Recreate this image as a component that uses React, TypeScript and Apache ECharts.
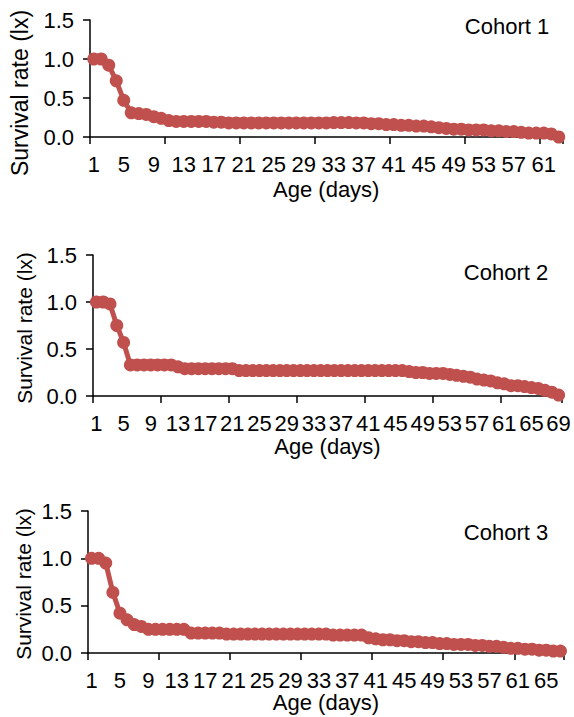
import React, { useEffect, useRef } from "react";
import * as echarts from "echarts";

// Survival rate (lx) per day of age
const cohort1 = [
  1.0, 1.0, 0.92, 0.72, 0.47, 0.31, 0.3, 0.29, 0.26, 0.24,
  0.21, 0.2, 0.2, 0.2, 0.2, 0.2, 0.19, 0.19, 0.18, 0.18,
  0.18, 0.18, 0.18, 0.18, 0.18, 0.18, 0.18, 0.18, 0.18, 0.18,
  0.18, 0.18, 0.185, 0.185, 0.185, 0.18, 0.18, 0.17, 0.17, 0.16,
  0.16, 0.15, 0.15, 0.14, 0.14, 0.13, 0.12, 0.11, 0.1, 0.1,
  0.09, 0.09, 0.09, 0.08, 0.08, 0.07, 0.07, 0.06, 0.05, 0.05,
  0.05, 0.04, 0.0,
];
const cohort2 = [
  1.0, 1.0, 0.98, 0.75, 0.57, 0.33, 0.33, 0.33, 0.33, 0.33,
  0.33, 0.33, 0.31, 0.29, 0.29, 0.29, 0.29, 0.29, 0.29, 0.29,
  0.29, 0.27, 0.27, 0.27, 0.27, 0.27, 0.27, 0.27, 0.27, 0.27,
  0.27, 0.27, 0.27, 0.27, 0.27, 0.27, 0.27, 0.27, 0.27, 0.27,
  0.27, 0.27, 0.27, 0.27, 0.27, 0.27, 0.26, 0.25, 0.25, 0.24,
  0.24, 0.24, 0.23, 0.22, 0.21, 0.2, 0.18, 0.17, 0.16, 0.14,
  0.13, 0.11, 0.11, 0.1, 0.09, 0.08, 0.06, 0.04, 0.01,
];
const cohort3 = [
  1.0, 1.0, 0.95, 0.64, 0.42, 0.35, 0.3, 0.28, 0.25, 0.25,
  0.25, 0.25, 0.25, 0.25, 0.21, 0.21, 0.21, 0.21, 0.21, 0.2,
  0.2, 0.2, 0.2, 0.2, 0.2, 0.2, 0.2, 0.2, 0.2, 0.2,
  0.2, 0.2, 0.2, 0.2, 0.19, 0.19, 0.19, 0.19, 0.19, 0.16,
  0.15, 0.14, 0.14, 0.13, 0.13, 0.12, 0.12, 0.11, 0.11, 0.1,
  0.1, 0.09, 0.09, 0.09, 0.08, 0.08, 0.07, 0.07, 0.06, 0.05,
  0.05, 0.04, 0.04, 0.03, 0.03, 0.02, 0.02,
];
const cohortNames = ["Cohort 1", "Cohort 2", "Cohort 3"];
const xTitle = "Age (days)";
const yTitle = "Survival rate (lx)";
const yMin = 0;
const yMax = 1.5;
const yStep = 0.5;

const days = (n: number) => Array.from({ length: n }, (_, i) => String(i + 1));

const FONT = "'Liberation Sans', Arial, sans-serif";
const RED = "#C0504D";

const panels = [
  { data: cohort1, grid: { left: 90, top: 20, width: 472.5, height: 117 }, nameGap: 41, labelSize: 22, yTitle: { x: 20, y: 93, size: 23 }, label: { x: 507, y: 26 } },
  { data: cohort2, grid: { left: 93, top: 255, width: 469, height: 141 }, nameGap: 39, labelSize: 22, yTitle: { x: 24, y: 328, size: 21 }, label: { x: 506, y: 272 } },
  { data: cohort3, grid: { left: 88, top: 511, width: 476, height: 142 }, nameGap: 35, labelSize: 22, yTitle: { x: 23, y: 584, size: 21 }, label: { x: 506, y: 532 } },
];

export default function App() {
  const ref = useRef<HTMLDivElement>(null);
  useEffect(() => {
    if (!ref.current) return;
    const chart = echarts.init(ref.current, undefined, { renderer: "svg" });
    const option: any = {
      animation: false,
      backgroundColor: "#fff",
      textStyle: { fontFamily: FONT, color: "#000" },
      grid: panels.map((p) => ({ ...p.grid, containLabel: false })),
      xAxis: panels.map((p, i) => ({
        type: "category",
        gridIndex: i,
        data: days(p.data.length),
        boundaryGap: true,
        name: xTitle,
        nameLocation: "middle",
        nameGap: p.nameGap,
        nameTextStyle: { fontFamily: FONT, fontSize: 22, color: "#000" },
        axisLine: { show: true, lineStyle: { color: "#000", width: 1.5 } },
        axisTick: { show: true, interval: 9, length: 7, lineStyle: { color: "#000", width: 1.5 } },
        axisLabel: { interval: 3, margin: 16, fontFamily: FONT, fontSize: p.labelSize, color: "#000" },
        splitLine: { show: false },
      })),
      yAxis: panels.map((p, i) => ({
        type: "value",
        gridIndex: i,
        min: yMin,
        max: yMax,
        interval: yStep,
        axisLine: { show: true, lineStyle: { color: "#000", width: 1.5 } },
        axisTick: { show: true, length: 7, lineStyle: { color: "#000", width: 1.5 } },
        axisLabel: {
          margin: 16,
          fontFamily: FONT,
          fontSize: 22,
          color: "#000",
          formatter: (v: number) => v.toFixed(1),
        },
        splitLine: { show: false },
      })),
      series: panels.map((p, i) => ({
        type: "line",
        name: cohortNames[i],
        xAxisIndex: i,
        yAxisIndex: i,
        data: p.data,
        symbol: "circle",
        symbolSize: 13,
        showAllSymbol: true,
        lineStyle: { color: RED, width: 5 },
        itemStyle: { color: RED },
      })),
      graphic: [
        ...panels.map((p) => ({
          type: "text",
          x: p.yTitle.x,
          y: p.yTitle.y,
          rotation: Math.PI / 2,
          style: {
            text: yTitle,
            fontFamily: FONT,
            fontSize: p.yTitle.size,
            fill: "#000",
            align: "center",
            verticalAlign: "middle",
          },
        })),
        ...panels.map((p, i) => ({
          type: "text",
          x: p.label.x,
          y: p.label.y,
          style: {
            text: cohortNames[i],
            fontFamily: FONT,
            fontSize: 22,
            fill: "#000",
            align: "center",
            verticalAlign: "middle",
          },
        })),
      ],
    };
    chart.setOption(option);
    return () => chart.dispose();
  }, []);
  return (
    <div
      ref={ref}
      style={{ position: "fixed", left: 0, top: 0, width: 574, height: 717 }}
    />
  );
}
